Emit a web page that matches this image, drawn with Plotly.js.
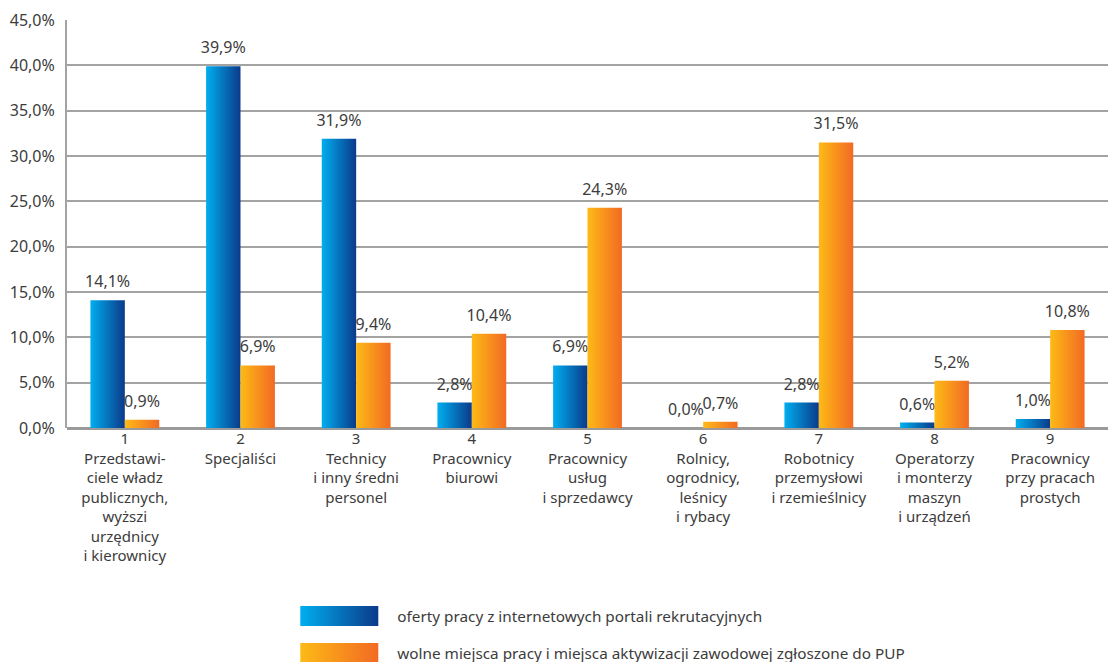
<!DOCTYPE html>
<html>
<head>
<meta charset="utf-8">
<script src="https://cdn.plot.ly/plotly-3.0.1.min.js"></script>
<style>html,body{margin:0;padding:0;background:#fff}#chart{width:1111px;height:662px}</style>
</head>
<body>
<div id="chart"></div>
<script>
var categories = [
  "1<br>Przedstawi-<br>ciele władz<br>publicznych,<br>wyższi<br>urzędnicy<br>i kierownicy",
  "2<br>Specjaliści",
  "3<br>Technicy<br>i inny średni<br>personel",
  "4<br>Pracownicy<br>biurowi",
  "5<br>Pracownicy<br>usług<br>i sprzedawcy",
  "6<br>Rolnicy,<br>ogrodnicy,<br>leśnicy<br>i rybacy",
  "7<br>Robotnicy<br>przemysłowi<br>i rzemieślnicy",
  "8<br>Operatorzy<br>i monterzy<br>maszyn<br>i urządzeń",
  "9<br>Pracownicy<br>przy pracach<br>prostych"
];
var seriesNames = [
  "oferty pracy z internetowych portali rekrutacyjnych",
  "wolne miejsca pracy i miejsca aktywizacji zawodowej zgłoszone do PUP"
];
var portalValues = [14.1, 39.9, 31.9, 2.8, 6.9, 0.0, 2.8, 0.6, 1.0];
var pupValues = [0.9, 6.9, 9.4, 10.4, 24.3, 0.7, 31.5, 5.2, 10.8];

var FONT = "'Noto Sans', 'Open Sans', sans-serif";
var TXT = "#3c3c3c";

function fmt(v){ return v.toFixed(1).replace('.', ',') + '%'; }

var traces = [
  {type:'bar', name:seriesNames[0], legendgroup:'a', x:categories, y:portalValues,
   text:portalValues.map(fmt), textposition:'outside', textangle:0, constraintext:'none', cliponaxis:false,
   textfont:{family:FONT, size:16, color:TXT}, marker:{color:'#0a6fc2'}, hoverinfo:'skip'},
  {type:'bar', name:seriesNames[1], legendgroup:'b', x:categories, y:pupValues,
   text:pupValues.map(fmt), textposition:'outside', textangle:0, constraintext:'none', cliponaxis:false,
   textfont:{family:FONT, size:16, color:TXT}, marker:{color:'#f7941d'}, hoverinfo:'skip'}
];

var layout = {
  width:1111, height:662,
  margin:{l:67, r:3, t:20, b:234},
  paper_bgcolor:'#fff', plot_bgcolor:'#fff',
  separators:', ',
  barmode:'group', bargap:0.405, bargroupgap:0,
  font:{family:FONT, size:15, color:TXT},
  xaxis:{type:'category', showgrid:false, showline:false, zeroline:false, ticks:'',
         tickfont:{family:FONT, size:15, color:TXT}, tickangle:0, automargin:false},
  yaxis:{range:[0,45], dtick:5, tickformat:'.1f', ticksuffix:'%', showgrid:true, gridcolor:'#a3a3a3', gridwidth:2,
         zeroline:true, zerolinecolor:'#9a9a9a', zerolinewidth:3,
         showline:true, linecolor:'#a3a3a3', linewidth:2, ticks:'', ticklabelstandoff:7,
         tickfont:{family:FONT, size:16, color:TXT}, automargin:false, fixedrange:true},
  showlegend:true,
  legend:{orientation:'v', x:0.2145, xanchor:'left', y:-0.39, yanchor:'top', itemwidth:97,
          tracegroupgap:14, font:{family:FONT, size:15.3, color:TXT}, bgcolor:'rgba(0,0,0,0)'}
};

Plotly.newPlot('chart', traces, layout, {displayModeBar:false, staticPlot:true}).then(function(gd){
  var svg = gd.querySelector('.main-svg');
  var ns = 'http://www.w3.org/2000/svg';
  var defs = svg.querySelector('defs') || svg.insertBefore(document.createElementNS(ns,'defs'), svg.firstChild);
  function grad(id, c1, c2){
    var g = document.createElementNS(ns,'linearGradient');
    g.setAttribute('id', id); g.setAttribute('x1','0'); g.setAttribute('x2','1'); g.setAttribute('y1','0'); g.setAttribute('y2','0');
    [[0,c1],[1,c2]].forEach(function(s){
      var st = document.createElementNS(ns,'stop');
      st.setAttribute('offset', s[0]); st.setAttribute('stop-color', s[1]); g.appendChild(st);
    });
    defs.appendChild(g);
  }
  grad('gBlue', '#00aeef', '#0b3a8a');
  grad('gOrange', '#fdba16', '#f26a23');
  var ids = ['gBlue','gOrange'];
  gd.querySelectorAll('.barlayer .trace.bars').forEach(function(tr, i){
    tr.querySelectorAll('.point path').forEach(function(p){ p.style.fill = 'url(#' + ids[i] + ')'; });
    tr.querySelectorAll('.bartext').forEach(function(t){
      var tf = t.getAttribute('transform') || '';
      t.setAttribute('transform', 'translate(0,-5) ' + tf);
    });
  });
  var firstTop = null;
  gd.querySelectorAll('.legend .traces').forEach(function(tr, i){
    var txt = tr.querySelector('.legendtext');
    var p = tr.querySelector('.legendpoints path');
    if(!p || !txt) return;
    var pb = p.getBoundingClientRect();
    var tb = txt.getBoundingClientRect();
    var cx = (pb.left + pb.right) / 2;
    var cy = (pb.top + pb.bottom) / 2;
    if(firstTop === null) firstTop = cy - 10;
    var right = tb.left - 19 - cx;
    var left = right - 78;
    p.setAttribute('d', 'M' + left + ',-10H' + right + 'V10H' + left + 'Z');
    p.style.fill = 'url(#' + ids[i] + ')';
    p.style.stroke = 'none';
  });
  var leg = gd.querySelector('.legend');
  if(leg && firstTop !== null){
    var svgTop = svg.getBoundingClientRect().top;
    var dy = 606 - (firstTop - svgTop);
    var tf = leg.getAttribute('transform') || '';
    leg.setAttribute('transform', 'translate(0,' + dy + ') ' + tf);
  }
});
</script>
</body>
</html>
